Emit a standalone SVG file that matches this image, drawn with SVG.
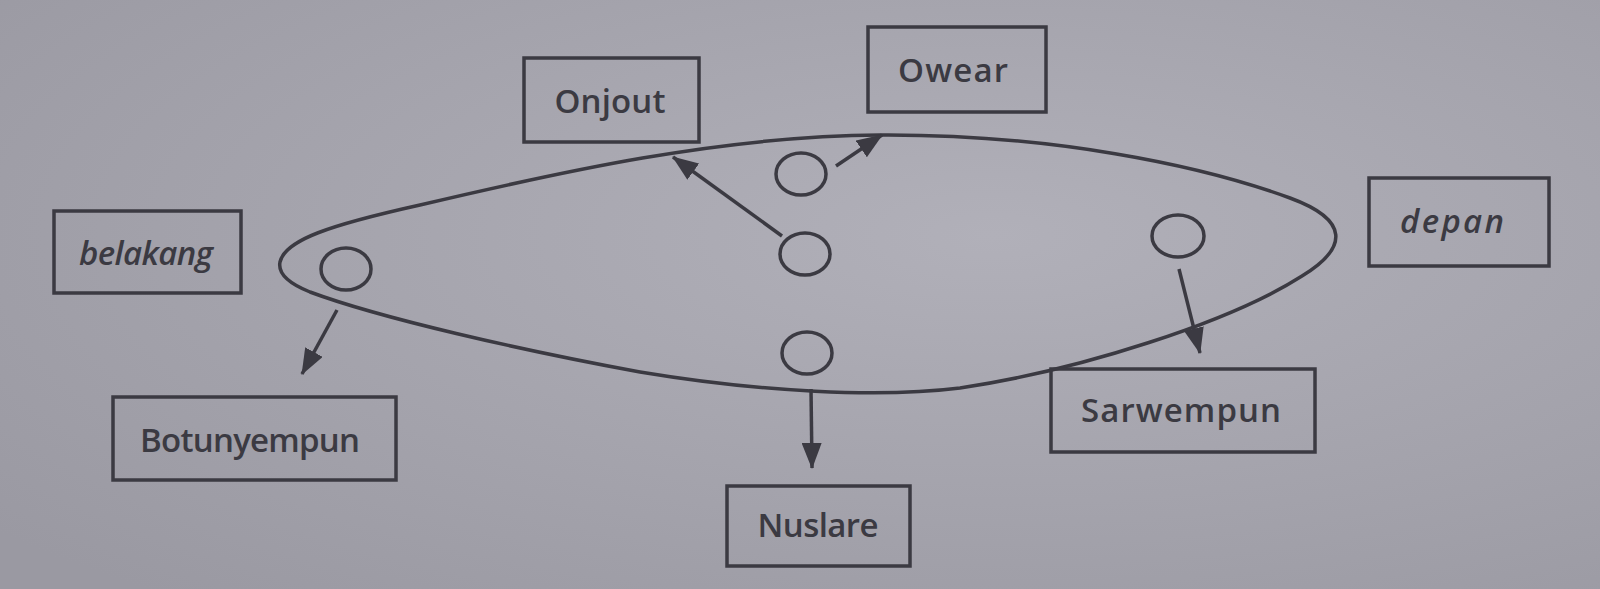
<svg xmlns="http://www.w3.org/2000/svg" width="1600" height="589" viewBox="0 0 1600 589">
<defs>
<radialGradient id="bg" cx="0.62" cy="0.4" r="0.8">
<stop offset="0" stop-color="#b1b0b9"/>
<stop offset="1" stop-color="#9a99a2"/>
</radialGradient>
<marker id="ah" viewBox="0 0 26 20" refX="25" refY="10" markerWidth="26" markerHeight="20" markerUnits="userSpaceOnUse" orient="auto">
<path d="M0,0 L26,10 L0,20 Z" fill="#3b3a42"/>
</marker>
<style>
.box{fill:none;stroke:#3b3a42;stroke-width:3.5}
.dot{fill:none;stroke:#3b3a42;stroke-width:3.5}
.lbl{font-family:"Open Sans","Liberation Sans",sans-serif;font-weight:600;font-size:33px;fill:#3b3a42;text-anchor:middle}
.it{font-style:italic}
.con{fill:none;stroke:#3b3a42;stroke-width:3.5;marker-end:url(#ah)}
.shape{fill:none;stroke:#3b3a42;stroke-width:3.5}
</style>
</defs>
<rect width="1600" height="589" fill="url(#bg)"/>
<g id="outline">
<path class="shape" d="M280,262 C285,240 330,225 420,205 C560,172 720,136 880,135 C1050,134 1200,165 1290,198 C1350,220 1348,248 1302,276 C1230,322 1080,370 960,388 C880,398 760,392 640,372 C520,350 380,318 310,292 C285,282 278,272 280,262 Z"/>
</g>
<g id="points">
<ellipse class="dot" cx="346" cy="269" rx="25" ry="21"/>
<ellipse class="dot" cx="801" cy="174" rx="25" ry="21"/>
<ellipse class="dot" cx="805" cy="254" rx="25" ry="21"/>
<ellipse class="dot" cx="807" cy="353" rx="25" ry="21"/>
<ellipse class="dot" cx="1178" cy="236" rx="26" ry="21"/>
</g>
<g id="connectors">
<line class="con" x1="782" y1="236" x2="673" y2="157"/>
<line class="con" x1="836" y1="166" x2="882" y2="135"/>
<line class="con" x1="337" y1="310" x2="302" y2="374"/>
<line class="con" x1="811" y1="389" x2="812" y2="468"/>
<line class="con" x1="1179" y1="269" x2="1200" y2="353"/>
</g>
<g id="onjout">
<rect class="box" x="524" y="58" width="175" height="84"/>
<text class="lbl" x="610" y="113" textLength="111">Onjout</text>
</g>
<g id="owear">
<rect class="box" x="868" y="27" width="178" height="85"/>
<text class="lbl" x="953" y="82" textLength="110">Owear</text>
</g>
<g id="belakang">
<rect class="box" x="54" y="211" width="187" height="82"/>
<text class="lbl it" x="146" y="265" textLength="134">belakang</text>
</g>
<g id="depan">
<rect class="box" x="1369" y="178" width="180" height="88"/>
<text class="lbl it" x="1452" y="233" textLength="104">depan</text>
</g>
<g id="botunyempun">
<rect class="box" x="113" y="397" width="283" height="83"/>
<text class="lbl" x="250" y="452" textLength="220">Botunyempun</text>
</g>
<g id="nuslare">
<rect class="box" x="727" y="486" width="183" height="80"/>
<text class="lbl" x="818" y="537" textLength="121">Nuslare</text>
</g>
<g id="sarwempun">
<rect class="box" x="1051" y="369" width="264" height="83"/>
<text class="lbl" x="1181" y="422" textLength="200">Sarwempun</text>
</g>
</svg>
